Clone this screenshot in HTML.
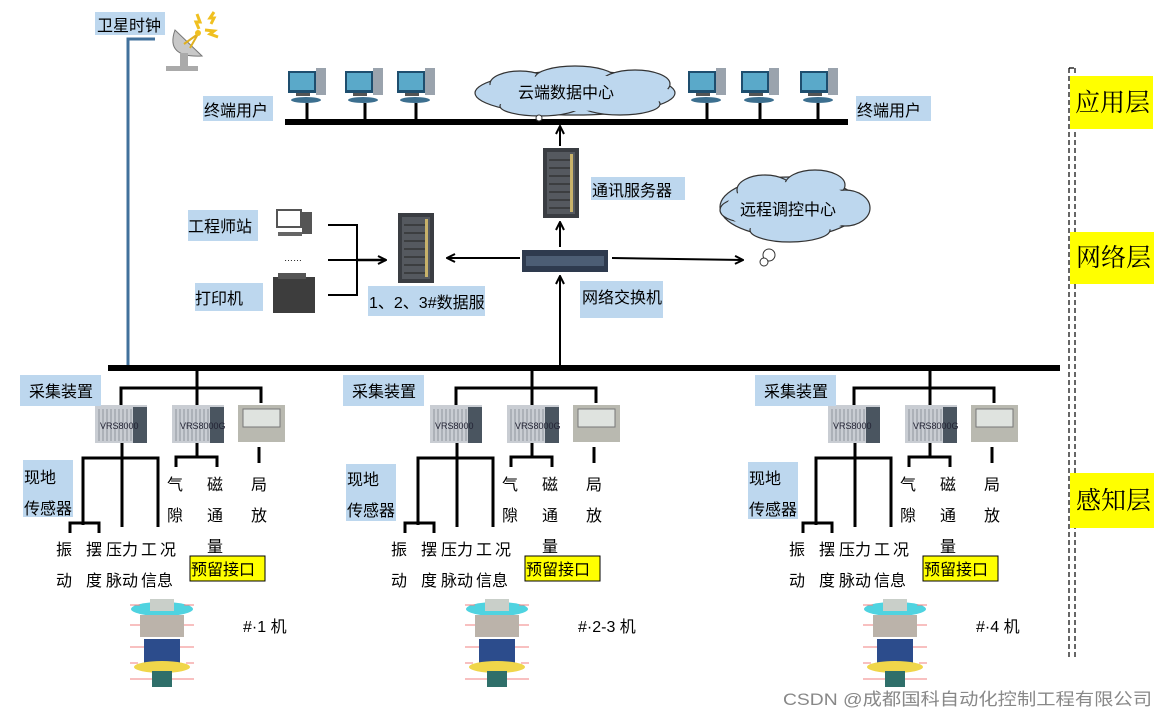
<!DOCTYPE html>
<html><head><meta charset="utf-8"><style>
html,body{margin:0;padding:0;background:#fff;}
svg{display:block;}
text{font-family:"Liberation Sans","Noto Sans CJK SC",sans-serif;font-size:16px;fill:#000;}
.ly{font-family:"Liberation Serif","Noto Serif CJK SC",serif;font-size:25px;}
</style></head><body>
<svg width="1166" height="719" viewBox="0 0 1166 719" xmlns="http://www.w3.org/2000/svg">
<defs>
<marker id="ar" markerWidth="10" markerHeight="10" refX="9" refY="5" orient="auto" markerUnits="userSpaceOnUse"><path d="M1 1 L9 5 L1 9" fill="none" stroke="#000" stroke-width="2"/></marker>
<g id="pc">
<rect x="0" y="3" width="28" height="22" fill="#1e4e6e"/><rect x="2" y="5" width="24" height="17" fill="#5aa9c9"/>
<rect x="28" y="0" width="10" height="27" fill="#9aa3ad"/>
<rect x="8" y="25" width="14" height="3" fill="#555"/>
<ellipse cx="18" cy="32" rx="15" ry="3" fill="#3c6f8f"/>
</g>
<g id="rack">
<rect x="0" y="0" width="36" height="70" fill="#3a3d42"/>
<rect x="4" y="4" width="28" height="62" fill="#55595f"/>
<g stroke="#222" stroke-width="1"><path d="M6 12H30M6 20H30M6 28H30M6 36H30M6 44H30M6 52H30M6 60H30"/></g>
<rect x="27" y="6" width="3" height="58" fill="#c8b26a"/>
</g>
<g id="dev">
<rect x="0" y="0" width="52" height="38" fill="#c9cdd3"/>
<g stroke="#8e959e"><path d="M4 4V36M8 4V36M12 4V36M16 4V36M20 4V36M24 4V36M28 4V36M32 4V36M36 4V36"/></g>
<rect x="38" y="2" width="14" height="36" fill="#4a5560"/>
</g>
<g id="mach">
<ellipse cx="32" cy="12" rx="31" ry="7" fill="#4fd3e0"/>
<rect x="20" y="2" width="24" height="12" fill="#c9cfc9"/>
<rect x="10" y="18" width="44" height="22" fill="#bbb3aa"/>
<rect x="14" y="42" width="36" height="26" fill="#2c4c8c"/>
<ellipse cx="32" cy="70" rx="28" ry="6" fill="#f0d64a"/>
<rect x="22" y="74" width="20" height="16" fill="#2f6f6a"/>
<g stroke="#f08080" stroke-width="1" fill="none"><path d="M0 8H10M54 8H64M0 28H10M54 28H64M0 50H14M50 50H64M0 66H8M56 66H64M0 82H22M42 82H64"/></g>
</g>
<g id="grp">
<g stroke="#000" stroke-width="3" fill="none">
<path d="M197 370V405M121 405V388H261V403M122 442V527M83 525V458H158V527M70 533V523H99V533M197 442V457M176 467V457H217V467M259 447V463"/>
</g>
<use href="#dev" x="95" y="405"/><use href="#dev" x="172" y="405"/>
<rect x="238" y="405" width="47" height="37" fill="#b9b9b0"/><rect x="243" y="409" width="37" height="18" fill="#dfe3df" stroke="#777"/>
<use href="#mach" x="130" y="597"/>
<rect x="190" y="556" width="75" height="25" fill="#ffff00" stroke="#000"/>
</g>
</defs>

<!-- satellite -->
<rect x="95" y="12" width="70" height="23" fill="#bdd7ee"/>
<text x="97" y="31">卫星时钟</text>
<path d="M155 39H128V368" stroke="#41719c" stroke-width="3" fill="none"/>
<path d="M175 30 Q165 58 202 56 Z" fill="#c8c8c8" stroke="#777"/>
<path d="M184 44L198 34M190 48L198 34" stroke="#e0b020" stroke-width="2"/>
<circle cx="198" cy="33" r="3" fill="#f0c020"/>
<rect x="180" y="53" width="8" height="13" fill="#aaa"/><rect x="166" y="66" width="32" height="5" fill="#aaa"/>
<path d="M197 14l3 8-4 0 3 7M214 12l-4 6 4 0-3 6M205 30l9 1-4 3 8 3" stroke="#f0c020" stroke-width="3" fill="none"/>

<!-- top bus -->
<rect x="285" y="119" width="563" height="6" fill="#000"/>
<g stroke="#000" stroke-width="3">
<path d="M307 103V120M365 103V120M416 103V120M707 103V120M760 103V120M818 103V120"/></g>
<use href="#pc" x="288" y="68"/><use href="#pc" x="345" y="68"/><use href="#pc" x="397" y="68"/>
<use href="#pc" x="688" y="68"/><use href="#pc" x="741" y="68"/><use href="#pc" x="800" y="68"/>
<rect x="203" y="96" width="70" height="25" fill="#bdd7ee"/><text x="204" y="116">终端用户</text>
<rect x="856" y="96" width="75" height="25" fill="#bdd7ee"/><text x="857" y="116">终端用户</text>

<!-- cloud top -->
<g fill="#bdd7ee" stroke="#333" stroke-width="1.2">
<ellipse cx="575" cy="93" rx="100" ry="22"/>
<ellipse cx="520" cy="84" rx="30" ry="13"/><ellipse cx="575" cy="78" rx="40" ry="12"/><ellipse cx="635" cy="84" rx="35" ry="14"/>
<ellipse cx="540" cy="106" rx="40" ry="10"/><ellipse cx="620" cy="104" rx="40" ry="11"/>
</g>
<ellipse cx="575" cy="93" rx="95" ry="18" fill="#bdd7ee"/>
<circle cx="539" cy="118" r="3" fill="#fff" stroke="#333"/>
<text x="518" y="98">云端数据中心</text>

<!-- comm server -->
<line x1="560" y1="146" x2="560" y2="126" stroke="#000" stroke-width="2" marker-end="url(#ar)"/>
<use href="#rack" x="543" y="148"/>
<line x1="560" y1="247" x2="560" y2="222" stroke="#000" stroke-width="2" marker-end="url(#ar)"/>
<rect x="591" y="177" width="94" height="23" fill="#bdd7ee"/><text x="592" y="196">通讯服务器</text>

<!-- remote cloud -->
<g fill="#bdd7ee" stroke="#333" stroke-width="1.2">
<ellipse cx="790" cy="207" rx="70" ry="30"/>
<ellipse cx="765" cy="190" rx="28" ry="15"/><ellipse cx="815" cy="185" rx="30" ry="15"/><ellipse cx="845" cy="208" rx="25" ry="18"/>
<ellipse cx="745" cy="210" rx="25" ry="12"/><ellipse cx="790" cy="230" rx="40" ry="12"/>
</g>
<ellipse cx="792" cy="208" rx="66" ry="26" fill="#bdd7ee"/>
<circle cx="769" cy="255" r="6" fill="#fff" stroke="#333"/><circle cx="764" cy="262" r="4" fill="#fff" stroke="#333"/>
<text x="740" y="215">远程调控中心</text>

<!-- switch -->
<rect x="522" y="250" width="86" height="22" fill="#2e3a4e"/><rect x="526" y="256" width="78" height="10" fill="#4c5d74"/>
<line x1="612" y1="258" x2="743" y2="260" stroke="#000" stroke-width="2" marker-end="url(#ar)"/>
<line x1="520" y1="258" x2="447" y2="258" stroke="#000" stroke-width="2" marker-end="url(#ar)"/>
<line x1="560" y1="367" x2="560" y2="276" stroke="#000" stroke-width="2" marker-end="url(#ar)"/>
<rect x="580" y="281" width="83" height="37" fill="#bdd7ee"/><text x="582" y="303">网络交换机</text>

<!-- data server -->
<use href="#rack" x="398" y="213"/>
<rect x="368" y="286" width="117" height="30" fill="#bdd7ee"/><text x="369" y="308">1、2、3#数据服</text>

<!-- engineer station -->
<rect x="188" y="210" width="70" height="31" fill="#bdd7ee"/><text x="188" y="232">工程师站</text>
<rect x="277" y="210" width="24" height="17" fill="#fff" stroke="#555" stroke-width="2"/><rect x="302" y="212" width="10" height="22" fill="#555"/>
<rect x="278" y="232" width="24" height="4" fill="#666"/>
<text x="284" y="261" style="font-size:9px">……</text>
<rect x="273" y="277" width="42" height="36" fill="#3d3d3d"/><rect x="278" y="273" width="28" height="6" fill="#555"/>
<rect x="195" y="283" width="68" height="28" fill="#bdd7ee"/><text x="195" y="304">打印机</text>
<path d="M328 225H357V295H328M328 260H357" stroke="#000" stroke-width="2" fill="none"/>
<line x1="357" y1="260" x2="386" y2="260" stroke="#000" stroke-width="2.5" marker-end="url(#ar)"/>

<!-- main bus -->
<rect x="108" y="365" width="952" height="6" fill="#000"/>

<!-- groups -->
<use href="#grp" x="0" y="0"/>
<use href="#grp" x="335" y="0"/>
<use href="#grp" x="733" y="0"/>

<g>
<rect x="20" y="375" width="81" height="31" fill="#bdd7ee"/><text x="29" y="397">采集装置</text>
<rect x="23" y="460" width="50" height="57" fill="#bdd7ee"/><text x="24" y="483">现地</text><text x="24" y="514">传感器</text>
<text x="100" y="429" style="font-size:9px;fill:#223">VRS8000</text><text x="180" y="429" style="font-size:9px;fill:#223">VRS8000G</text>
<text x="167" y="490">气</text><text x="207" y="490">磁</text><text x="251" y="490">局</text>
<text x="167" y="521">隙</text><text x="207" y="521">通</text><text x="251" y="521">放</text>
<text x="207" y="552">量</text>
<text x="56" y="555">振</text><text x="86" y="555">摆</text><text x="106" y="555">压力</text><text x="141" y="555">工</text><text x="160" y="555">况</text>
<text x="56" y="586">动</text><text x="86" y="586">度</text><text x="106" y="586">脉动</text><text x="141" y="586">信息</text>
<text x="191" y="575">预留接口</text>
<text x="243" y="632">#·1 机</text>
</g>
<g>
<rect x="343" y="375" width="81" height="31" fill="#bdd7ee"/><text x="352" y="397">采集装置</text>
<rect x="346" y="464" width="50" height="57" fill="#bdd7ee"/><text x="347" y="485">现地</text><text x="347" y="516">传感器</text>
<text x="435" y="429" style="font-size:9px;fill:#223">VRS8000</text><text x="515" y="429" style="font-size:9px;fill:#223">VRS8000G</text>
<text x="502" y="490">气</text><text x="542" y="490">磁</text><text x="586" y="490">局</text>
<text x="502" y="521">隙</text><text x="542" y="521">通</text><text x="586" y="521">放</text>
<text x="542" y="552">量</text>
<text x="391" y="555">振</text><text x="421" y="555">摆</text><text x="441" y="555">压力</text><text x="476" y="555">工</text><text x="495" y="555">况</text>
<text x="391" y="586">动</text><text x="421" y="586">度</text><text x="441" y="586">脉动</text><text x="476" y="586">信息</text>
<text x="526" y="575">预留接口</text>
<text x="578" y="632">#·2-3 机</text>
</g>
<g>
<rect x="755" y="375" width="81" height="31" fill="#bdd7ee"/><text x="764" y="397">采集装置</text>
<rect x="748" y="462" width="50" height="57" fill="#bdd7ee"/><text x="749" y="484">现地</text><text x="749" y="515">传感器</text>
<text x="833" y="429" style="font-size:9px;fill:#223">VRS8000</text><text x="913" y="429" style="font-size:9px;fill:#223">VRS8000G</text>
<text x="900" y="490">气</text><text x="940" y="490">磁</text><text x="984" y="490">局</text>
<text x="900" y="521">隙</text><text x="940" y="521">通</text><text x="984" y="521">放</text>
<text x="940" y="552">量</text>
<text x="789" y="555">振</text><text x="819" y="555">摆</text><text x="839" y="555">压力</text><text x="874" y="555">工</text><text x="893" y="555">况</text>
<text x="789" y="586">动</text><text x="819" y="586">度</text><text x="839" y="586">脉动</text><text x="874" y="586">信息</text>
<text x="924" y="575">预留接口</text>
<text x="976" y="632">#·4 机</text>
</g>

<!-- layer line -->
<path d="M1069 68H1075M1069 68V660M1075 68V660" stroke="#000" stroke-width="1.2" stroke-dasharray="5 3" fill="none"/>
<rect x="1070" y="76" width="83" height="53" fill="#ffff00"/><text class="ly" x="1075" y="111">应用层</text>
<rect x="1070" y="232" width="84" height="52" fill="#ffff00"/><text class="ly" x="1076" y="266">网络层</text>
<rect x="1070" y="473" width="84" height="55" fill="#ffff00"/><text class="ly" x="1076" y="509">感知层</text>

<text x="783" y="705" textLength="369" lengthAdjust="spacingAndGlyphs" style="fill:#888;font-size:17px">CSDN @成都国科自动化控制工程有限公司</text>
</svg>
</body></html>
